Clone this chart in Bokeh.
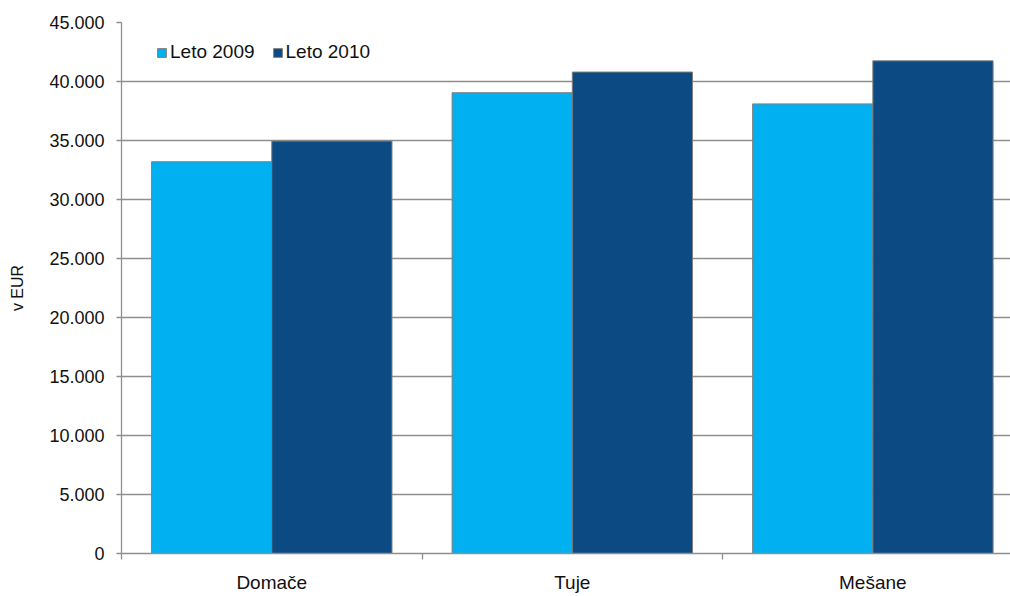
from bokeh.plotting import figure
from bokeh.models import FixedTicker, Range1d, Legend, LegendItem
from bokeh.embed import file_html
from bokeh.resources import INLINE

categories = ["Domače", "Tuje", "Mešane"]
series_names = ["Leto 2009", "Leto 2010"]
leto_2009 = [33200, 39050, 38100]
leto_2010 = [34950, 40800, 41750]
y_ticks = [0, 5000, 10000, 15000, 20000, 25000, 30000, 35000, 40000, 45000]
y_tick_labels = ["0", "5.000", "10.000", "15.000", "20.000", "25.000",
                 "30.000", "35.000", "40.000", "45.000"]
colors = ["#00B0F0", "#0B4A82"]

FONT = "Liberation Sans"
TXT = "#111111"
GREY = "#8f8f8f"

p = figure(frame_width=889, frame_height=531, output_backend="svg", toolbar_location=None,
           x_range=Range1d(0, 2.958), y_range=Range1d(0, 45000),
           min_border_left=121, min_border_right=0, min_border_top=22, min_border_bottom=43)
p.outline_line_color = None
p.background_fill_color = "white"
p.border_fill_color = "white"

n = len(categories)
idx = list(range(n))
bw = 0.4
x09 = [i + 0.3 for i in idx]
x10 = [i + 0.7 for i in idx]
r1 = p.vbar(x=x09, top=leto_2009, width=bw, fill_color=colors[0], line_color="#7f7f7f", line_width=1)
r2 = p.vbar(x=x10, top=leto_2010, width=bw, fill_color=colors[1], line_color="#7f7f7f", line_width=1)

# y axis
p.yaxis.ticker = FixedTicker(ticks=y_ticks)
p.yaxis.major_label_overrides = {t: l for t, l in zip(y_ticks, y_tick_labels)}
p.yaxis.axis_label = "v EUR"
p.yaxis.axis_label_text_font = FONT
p.yaxis.axis_label_text_font_size = "16px"
p.yaxis.axis_label_text_font_style = "normal"
p.yaxis.axis_label_text_color = TXT
p.yaxis.axis_label_standoff = 20
p.yaxis.major_label_text_font = FONT
p.yaxis.major_label_text_font_size = "18px"
p.yaxis.major_label_text_color = TXT
p.yaxis.major_label_standoff = 12
p.yaxis.major_tick_out = 5
p.yaxis.major_tick_in = 0
p.yaxis.minor_tick_line_color = None
p.yaxis.major_tick_line_color = GREY
p.yaxis.axis_line_color = GREY
p.yaxis.axis_line_width = 1.3
p.yaxis.major_tick_line_width = 1.3

# x axis
centers = [i + 0.5 for i in idx]
bounds = list(range(n + 1))
p.xaxis.ticker = FixedTicker(ticks=centers, minor_ticks=bounds)
p.xaxis.major_label_overrides = {c: name for c, name in zip(centers, categories)}
p.xaxis.major_label_text_font = FONT
p.xaxis.major_label_text_font_size = "19px"
p.xaxis.major_label_text_color = TXT
p.xaxis.major_tick_line_color = None
p.xaxis.major_tick_out = 0
p.xaxis.major_tick_in = 0
p.xaxis.major_label_standoff = 12
p.xaxis.minor_tick_out = 6
p.xaxis.minor_tick_in = 0
p.xaxis.minor_tick_line_color = GREY
p.xaxis.minor_tick_line_width = 1.3
p.xaxis.axis_line_color = GREY
p.xaxis.axis_line_width = 1.3

p.xgrid.grid_line_color = None
p.ygrid.grid_line_color = GREY
p.ygrid.grid_line_width = 1.3
p.ygrid.ticker = FixedTicker(ticks=y_ticks)

legend = Legend(items=[LegendItem(label=series_names[0], renderers=[r1]),
                       LegendItem(label=series_names[1], renderers=[r2])],
                location=(35, 490), orientation="horizontal",
                padding=0, margin=0, spacing=17,
                glyph_width=11, glyph_height=11, label_standoff=3,
                label_text_font=FONT, label_text_font_size="19px", label_text_color=TXT,
                border_line_color=None, background_fill_alpha=0)
p.add_layout(legend)

open("out.html", "w").write(file_html(p, INLINE))
